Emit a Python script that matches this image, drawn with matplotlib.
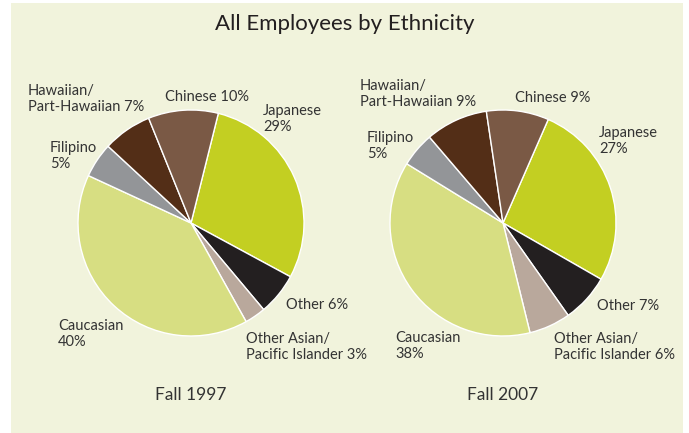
import matplotlib
matplotlib.use("Agg")
import matplotlib.pyplot as plt
from matplotlib.patches import Rectangle

plt.rcParams["font.family"] = ["Lato", "DejaVu Sans"]

W, H = 689, 433

groups = ["Japanese", "Other", "Other Asian/Pacific Islander", "Caucasian",
          "Filipino", "Hawaiian/Part-Hawaiian", "Chinese"]
share_1997 = [29, 6, 3, 40, 5, 7, 10]
share_2007 = [27, 7, 6, 38, 5, 9, 9]
colors = ["#c3cf22", "#231f20", "#b9a89c", "#d7de82", "#939598", "#532e17", "#7a5945"]

labels_1997 = ["Japanese\n29%", "Other 6%", "Other Asian/\nPacific Islander 3%", "Caucasian\n40%",
               "Filipino\n5%", "Hawaiian/\nPart-Hawaiian 7%", "Chinese 10%"]
labels_2007 = ["Japanese\n27%", "Other 7%", "Other Asian/\nPacific Islander 6%", "Caucasian\n38%",
               "Filipino\n5%", "Hawaiian/\nPart-Hawaiian 9%", "Chinese 9%"]

# label anchors (left edge, vertical centre) in pixel units from the top-left
pos_1997 = [(263, 119), (286, 305), (246, 347), (58, 334), (50, 156), (28, 99), (165, 97)]
pos_2007 = [(599, 141), (597, 306), (554, 347), (395, 346), (367, 146), (360, 94), (515, 98)]

text_col = "#333333"

fig = plt.figure(figsize=(W / 100, H / 100), dpi=100, facecolor="white")
ax = fig.add_axes([0, 0, 1, 1])
ax.set_xlim(0, W)
ax.set_ylim(0, H)
ax.set_aspect("equal")
ax.axis("off")


def py(y):
    return H - y


ax.add_patch(Rectangle((11, 0), 672, H - 3, facecolor="#f1f3dc", edgecolor="none", zorder=0))

ax.text(W / 2, py(24), "All Employees by Ethnicity", ha="center", va="center",
        fontsize=16, color="#231f20")

for vals, labels, pos, cx, start, title in [
    (share_1997, labels_1997, pos_1997, 191, 76, "Fall 1997"),
    (share_2007, labels_2007, pos_2007, 503, 66.4, "Fall 2007"),
]:
    ax.pie(vals, colors=colors, startangle=start, counterclock=False,
           center=(cx, py(223)), radius=113, frame=True,
           wedgeprops=dict(edgecolor="white", linewidth=1.0))
    for lab, (x, y) in zip(labels, pos):
        ax.text(x, py(y), lab, ha="left", va="center", fontsize=10.5,
                color=text_col, linespacing=1.25)
    ax.text(cx, py(395), title, ha="center", va="center", fontsize=12.5, color=text_col)

ax.set_xlim(0, W)
ax.set_ylim(0, H)
ax.axis("off")

fig.savefig("out.png", dpi=100, facecolor="white")
